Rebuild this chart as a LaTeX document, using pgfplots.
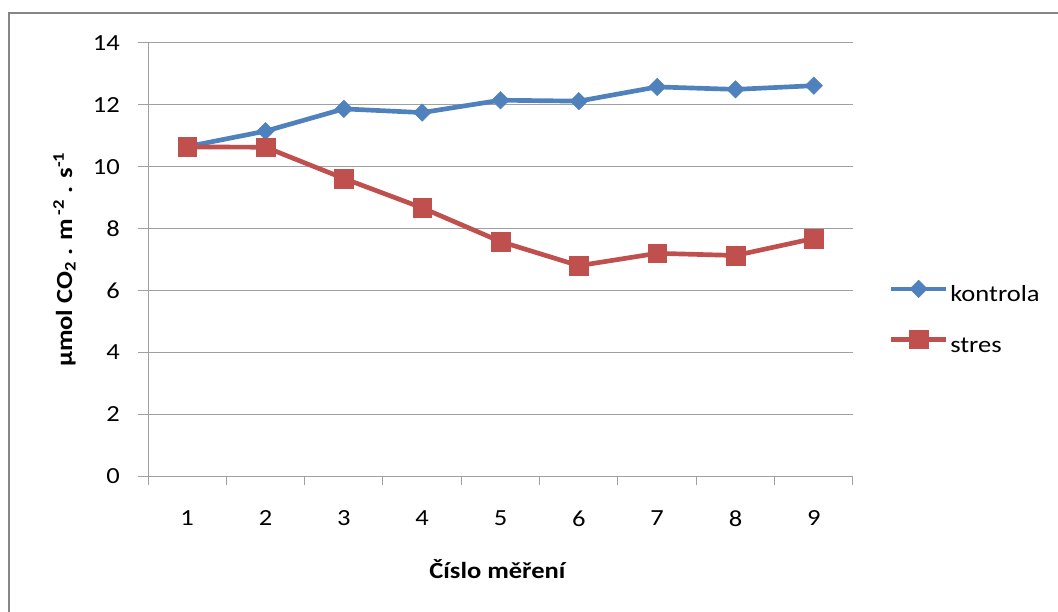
\documentclass[border=0pt]{standalone}
\usepackage{pgfplots}
\pgfplotsset{compat=1.18}
\usepackage{fontspec}
\setmainfont{Carlito}[FakeStretch=1.15]
\definecolor{kblue}{HTML}{4F81BD}
\definecolor{sred}{HTML}{C0504D}
\definecolor{gridgray}{HTML}{A0A0A0}
\definecolor{framegray}{HTML}{868686}
\newcommand{\fs}{\fontsize{17.3bp}{20bp}\selectfont}
\begin{document}
\begin{tikzpicture}
\useasboundingbox (0,0) rectangle (793.5bp,459bp);
\draw[framegray, line width=1.5bp] (6.75bp,449.25bp) rectangle (830bp,-30bp);
\begin{axis}[
  at={(111bp,102bp)}, anchor=south west,
  scale only axis, width=528.75bp, height=324.75bp,
  xmin=0.5, xmax=9.5, ymin=0, ymax=14,
  axis x line=bottom, axis y line=left,
  axis line style={gridgray, line width=0.75bp, -},
  xtick={1,...,9}, minor xtick={0.5,1.5,...,9.5},
  ytick={0,2,...,14},
  tick align=outside,
  major tick length=7.5bp, minor tick length=7bp,
  major x tick style={draw=none},
  minor x tick style={gridgray, line width=0.75bp},
  ytick style={gridgray, line width=0.75bp},
  ymajorgrids,
  major grid style={gridgray, line width=0.75bp},
  tick label style={font=\fs},
  /pgf/number format/assume math mode=true,
  yticklabel style={anchor=east, inner sep=0pt, xshift=-13.5bp},
  xticklabel style={anchor=north, inner sep=0pt, yshift=-18.4bp},
  xlabel={Číslo měření},
  xlabel style={font=\fs\bfseries, at={(axis description cs:0.4956,-0.2356)}, anchor=base},
  ylabel={µmol CO\textsubscript{2} . m\,\textsuperscript{-2} . s\textsuperscript{-1}},
  ylabel style={font=\fs\bfseries, at={(axis description cs:-0.1184,0.5)}, anchor=center},
  legend style={at={(axis description cs:1.0510,0.4522)}, anchor=north west,
    draw=none, fill=none, inner sep=0pt, outer sep=0pt,
    nodes={inner sep=0pt, text height=12bp, text depth=4bp, font=\fs},
    row sep=17.15bp,
    /tikz/every odd column/.append style={column sep=1.5bp}},
  legend cell align=left,
  legend image code/.code={\draw[mark repeat=2, mark phase=2] plot coordinates {(0bp,5.6bp) (20.5bp,5.6bp) (41bp,5.6bp)};},
]
\addplot[kblue, line width=3.5bp, mark=square*, mark size=4.6bp,
  mark options={solid, rotate=45, line width=0.4bp, fill=kblue}]
  coordinates {(1,10.65) (2,11.15) (3,11.87) (4,11.75) (5,12.15) (6,12.12) (7,12.58) (8,12.50) (9,12.62)};
\addlegendentry{kontrola}
\addplot[sred, line width=3.5bp, mark=square*, mark size=7bp,
  mark options={solid, line width=0.4bp, fill=sred}]
  coordinates {(1,10.64) (2,10.63) (3,9.62) (4,8.67) (5,7.58) (6,6.80) (7,7.20) (8,7.13) (9,7.68)};
\addlegendentry{stres}
\end{axis}
\end{tikzpicture}
\end{document}
